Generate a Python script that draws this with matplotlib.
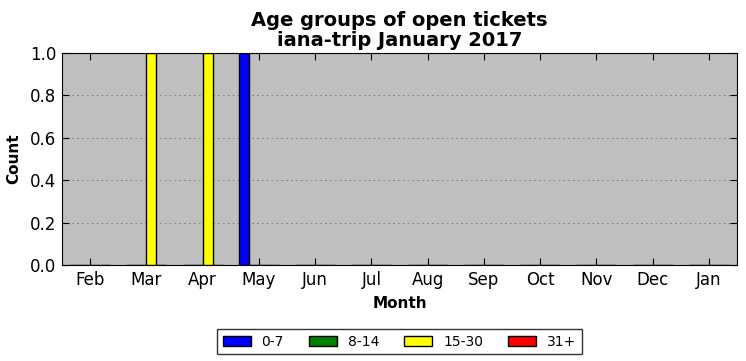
import numpy as np
import matplotlib
matplotlib.use('Agg')
import matplotlib.pyplot as plt

months = ['Feb', 'Mar', 'Apr', 'May', 'Jun', 'Jul', 'Aug', 'Sep',
          'Oct', 'Nov', 'Dec', 'Jan']
groups = ['0-7', '8-14', '15-30', '31+']
colors = ['blue', 'green', 'yellow', 'red']

age_0_7 = [0, 0, 0, 1, 0, 0, 0, 0, 0, 0, 0, 0]
age_8_14 = [0, 0, 0, 0, 0, 0, 0, 0, 0, 0, 0, 0]
age_15_30 = [0, 1, 1, 0, 0, 0, 0, 0, 0, 0, 0, 0]
age_31_plus = [0, 0, 0, 0, 0, 0, 0, 0, 0, 0, 0, 0]
series = [age_0_7, age_8_14, age_15_30, age_31_plus]

fig = plt.figure(figsize=(7.46, 3.61), dpi=100)
ax = fig.add_axes([62 / 746, 1 - 265 / 361, 675 / 746, 212 / 361])
ax.set_facecolor('#bfbfbf')

x = np.arange(len(months))
width = 0.178
# bars are left aligned, offset so that the 15-30 group starts at the tick
for i, (label, vals, col) in enumerate(zip(groups, series, colors)):
    ax.bar(x + (i - 2) * width, vals, width, align='edge', color=col,
           edgecolor='black', linewidth=1, label=label, zorder=3)

ax.set_xlim(-0.5, len(months) - 0.5)
ax.set_ylim(0, 1)
ax.set_xticks(x)
ax.set_xticklabels(months)
ax.set_yticks(np.arange(0, 1.01, 0.2))
ax.tick_params(direction='in', top=True, right=True, labelsize=12,
               length=5, pad=4)
ax.yaxis.grid(True, linestyle=(0, (2, 3)), color='#888888', linewidth=0.7,
              zorder=0)
ax.set_axisbelow(True)

ax.set_xlabel('Month', fontweight='bold', fontsize=11, labelpad=5)
ax.set_ylabel('Count', fontweight='bold', fontsize=11, labelpad=6)
ax.set_title('Age groups of open tickets\niana-trip January 2017',
             fontweight='bold', fontsize=14, linespacing=1.1, pad=5)

leg = ax.legend(loc='upper center', bbox_to_anchor=(0.5, -0.27), ncol=4,
                fancybox=False, edgecolor='black', fontsize=10,
                handlelength=2.0, handleheight=0.7, columnspacing=1.8,
                borderpad=0.4)
leg.get_frame().set_linewidth(1)

fig.savefig('out.png', dpi=100)
